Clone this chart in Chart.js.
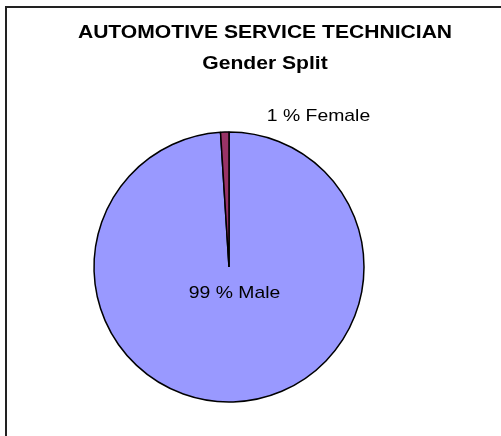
<!DOCTYPE html>
<html lang="en">
<head>
  <meta charset="UTF-8" />
  <title>Automotive Service Technician - Gender Split</title>
  <script src="https://cdn.jsdelivr.net/npm/chart.js"></script>
  <style>
    html, body { margin: 0; padding: 0; background: #fff; overflow: hidden; }
    #box { position: absolute; left: 5px; top: 6px; width: 516px; height: 440px; border: 2px solid #222; }
  </style>
</head>
<body>
  <div id="box"><canvas id="pie" width="516" height="440"></canvas></div>

  <script>
    // chart data
    const categories = ['Male', 'Female'];
    const shares = [99, 1];
    const sliceColors = ['#9999FF', '#993366'];
    const titleLines = ['AUTOMOTIVE SERVICE TECHNICIAN', 'Gender Split'];

    // excel-ish text: arial, a bit stretched sideways
    const FONT = '"Liberation Sans", Arial, sans-serif';

    const titlePlugin = {
      id: 'xlTitle',
      afterDraw(chart) {
        const ctx = chart.ctx;
        const cx = chart.width / 2;
        const baselines = [30, 61];
        ctx.save();
        ctx.fillStyle = '#000';
        ctx.font = 'bold 19px ' + FONT;
        ctx.textAlign = 'center';
        ctx.textBaseline = 'alphabetic';
        titleLines.forEach((t, i) => {
          ctx.save();
          ctx.translate(cx, baselines[i]);
          ctx.scale(1.11, 1);
          ctx.fillText(t, 0, 0);
          ctx.restore();
        });
        ctx.restore();
      }
    };

    // label offsets from the pie centre (Male, Female)
    const labelPlugin = {
      id: 'xlLabels',
      afterDraw(chart) {
        const ctx = chart.ctx;
        const arcs = chart.getDatasetMeta(0).data;
        const offsets = [[5.5, 31], [89.5, -146]];
        ctx.save();
        ctx.fillStyle = '#000';
        ctx.font = '17px ' + FONT;
        ctx.textAlign = 'center';
        ctx.textBaseline = 'alphabetic';
        arcs.forEach((arc, i) => {
          const txt = shares[i] + ' % ' + categories[i];
          ctx.save();
          ctx.translate(arc.x + offsets[i][0], arc.y + offsets[i][1]);
          ctx.scale(1.14, 1);
          ctx.fillText(txt, 0, 0);
          ctx.restore();
        });
        ctx.restore();
      }
    };

    new Chart(document.getElementById('pie'), {
      type: 'pie',
      data: {
        labels: categories,
        datasets: [{
          data: shares,
          backgroundColor: sliceColors,
          borderColor: '#000',
          borderWidth: 1.5,
          radius: 135
        }]
      },
      options: {
        responsive: false,
        animation: false,
        layout: { padding: { left: 0, right: 72, top: 100, bottom: 22 } },
        plugins: {
          legend: { display: false },
          title: { display: false },
          tooltip: { enabled: false }
        }
      },
      plugins: [titlePlugin, labelPlugin]
    });
  </script>
</body>
</html>
